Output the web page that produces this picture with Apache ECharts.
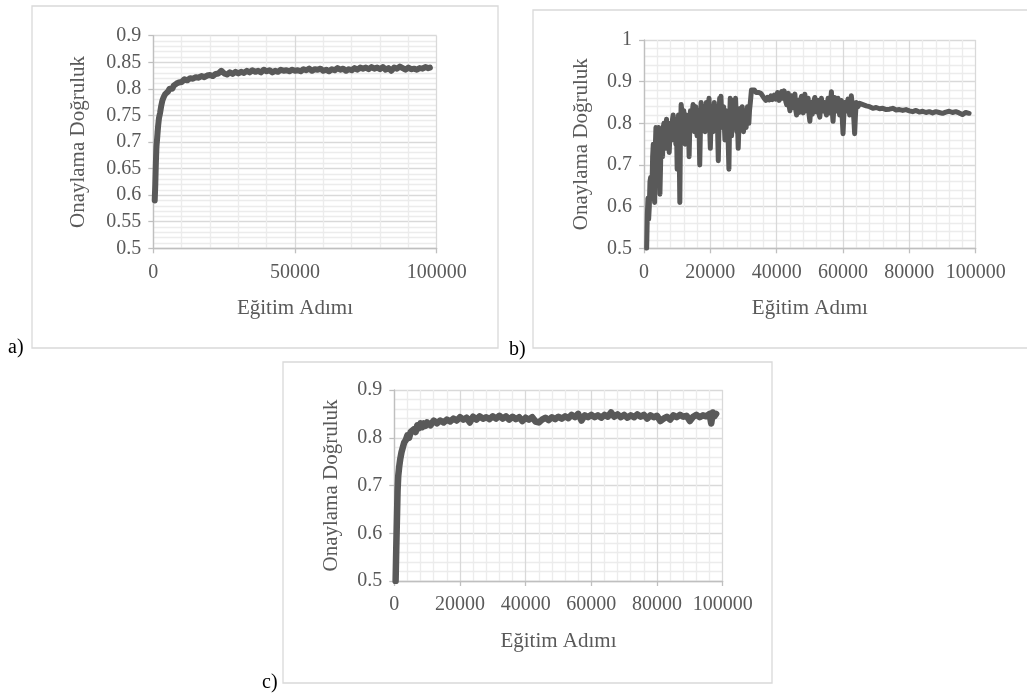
<!DOCTYPE html>
<html>
<head>
<meta charset="utf-8">
<script src="https://cdn.jsdelivr.net/npm/echarts@6/dist/echarts.min.js"></script>
<style>
html,body{margin:0;padding:0;background:#fff;}
#chart{width:1027px;height:696px;}
</style>
</head>
<body>
<div id="chart"></div>
<script>
// ---- Data ----
const xTitle = 'Eğitim Adımı';
const yTitle = 'Onaylama Doğruluk';
const panelLabels = ['a)', 'b)', 'c)'];

// Panel a
const stepsA = [500,700,900,1100,1400,1700,2000,2400,2800,3200,3700,4200,4700,5200,5700,6200,6700,7200,7700,8200,9000,10000,11000,12000,13000,14000,15000,16000,17000,18000,19000,20000,21000,22000,23000,24000,25000,26000,27000,28000,29000,30000,31000,32000,33000,34000,35000,36000,37000,38000,39000,40000,41000,42000,43000,44000,45000,46000,47000,48000,49000,50000,51000,52000,53000,54000,55000,56000,57000,58000,59000,60000,61000,62000,63000,64000,65000,66000,67000,68000,69000,70000,71000,72000,73000,74000,75000,76000,77000,78000,79000,80000,81000,82000,83000,84000,85000,86000,87000,88000,89000,90000,91000,92000,93000,94000,95000,96000,97000,97600];
const accA = [0.59,0.62,0.66,0.69,0.71,0.73,0.745,0.755,0.768,0.778,0.785,0.79,0.788,0.795,0.80,0.803,0.80,0.806,0.805,0.81,0.812,0.813,0.818,0.816,0.82,0.819,0.822,0.821,0.824,0.822,0.825,0.826,0.824,0.828,0.829,0.834,0.829,0.827,0.831,0.828,0.832,0.829,0.832,0.83,0.834,0.831,0.835,0.832,0.834,0.831,0.836,0.833,0.835,0.831,0.834,0.832,0.836,0.834,0.835,0.833,0.836,0.834,0.835,0.833,0.837,0.835,0.838,0.834,0.837,0.836,0.838,0.834,0.836,0.833,0.837,0.835,0.839,0.836,0.838,0.834,0.837,0.835,0.839,0.836,0.84,0.838,0.84,0.837,0.841,0.838,0.84,0.837,0.841,0.836,0.839,0.834,0.84,0.838,0.842,0.839,0.836,0.84,0.837,0.838,0.836,0.839,0.838,0.841,0.839,0.84];

// Panel b
const stepsB = [800,1000,1200,1400,1600,1800,2000,2200,2400,2600,2800,3000,3200,3400,3600,3800,4000,4200,4400,4600,4800,5000,5200,5400,5600,5800,6000,6200,6400,6600,6800,7000,7200,7400,7600,7800,8000,8200,8400,8600,8800,9000,9200,9400,9600,9800,10000,10200,10400,10600,10800,11000,11200,11400,11600,11800,12000,12200,12400,12600,12800,13000,13200,13400,13600,13800,14000,14200,14400,14600,14800,15000,15200,15400,15600,15800,16000,16200,16400,16600,16800,17000,17200,17400,17600,17800,18000,18200,18400,18600,18800,19000,19200,19400,19600,19800,20000,20200,20400,20600,20800,21000,21200,21400,21600,21800,22000,22200,22400,22600,22800,23000,23200,23400,23600,23800,24000,24200,24400,24600,24800,25000,25200,25400,25600,25800,26000,26200,26400,26600,26800,27000,27200,27400,27600,27800,28000,28200,28400,28600,28800,29000,29200,29400,29600,29800,30000,30200,30400,30600,30800,31000,31200,31400,31600,31800,32000,32400,32800,
33000,33250,33500,33750,34000,34250,34500,34750,35000,35250,35500,35750,36000,36250,36500,36750,37000,37250,37500,37750,38000,38250,38500,38750,39000,39250,39500,39750,40000,40250,40500,40750,41000,41250,41500,41750,42000,42250,42500,42750,43000,43250,43500,43750,44000,44250,44500,44750,45000,45250,45500,45750,46000,46250,46500,46750,47000,47250,47500,47750,48000,48250,48500,48750,49000,49250,49500,49750,50000,50250,50500,50750,51000,51250,51500,51750,52000,52250,52500,52750,53000,53250,53500,53750,54000,54250,54500,54750,55000,55250,55500,55750,56000,56250,56500,56750,57000,57250,57500,57750,58000,58250,58500,58750,59000,59250,59500,59750,60000,60250,60500,60750,61000,61250,61500,61750,62000,62250,62500,62750,63000,63250,63500,63750,64000,64250,64500,
65000,66000,67000,68000,69000,70000,71000,72000,73000,74000,75000,76000,77000,78000,79000,80000,81000,82000,83000,84000,85000,86000,87000,88000,89000,90000,91000,92000,93000,94000,95000,96000,97000,98000];
const accB = [0.50,0.58,0.62,0.57,0.60,0.66,0.67,0.62,0.64,0.72,0.75,0.66,0.61,0.74,0.79,0.75,0.72,0.78,0.79,0.71,0.63,0.70,0.78,0.76,0.72,0.79,0.80,0.77,0.74,0.79,0.81,0.78,0.76,0.80,0.73,0.77,0.80,0.78,0.76,0.81,0.82,0.77,0.78,0.81,0.75,0.79,0.69,0.80,0.82,0.75,0.61,0.78,0.845,0.83,0.78,0.82,0.83,0.79,0.75,0.80,0.82,0.78,0.77,0.81,0.72,0.79,0.83,0.80,0.79,0.83,0.845,0.81,0.78,0.82,0.84,0.80,0.77,0.81,0.83,0.79,0.70,0.78,0.85,0.82,0.79,0.83,0.84,0.80,0.78,0.82,0.85,0.81,0.80,0.84,0.86,0.79,0.74,0.80,0.84,0.81,0.78,0.83,0.85,0.82,0.80,0.83,0.84,0.78,0.71,0.79,0.86,0.83,0.865,0.82,0.79,0.82,0.84,0.80,0.76,0.80,0.83,0.81,0.80,0.75,0.69,0.80,0.86,0.82,0.77,0.81,0.855,0.83,0.80,0.84,0.86,0.82,0.78,0.80,0.74,0.79,0.835,0.82,0.80,0.83,0.84,0.80,0.78,0.80,0.83,0.81,0.79,0.82,0.84,0.82,0.80,0.83,0.845,0.88,0.882,
0.882,0.880,0.878,0.874,0.876,0.872,0.874,0.870,0.877,0.872,0.870,0.866,0.868,0.860,0.862,0.855,0.852,0.862,0.866,0.856,0.858,0.866,0.870,0.857,0.860,0.868,0.872,0.858,0.862,0.874,0.870,0.855,0.858,0.870,0.876,0.860,0.862,0.878,0.878,0.852,0.845,0.866,0.872,0.842,0.830,0.855,0.866,0.838,0.840,0.862,0.870,0.832,0.820,0.845,0.855,0.826,0.835,0.858,0.865,0.832,0.825,0.852,0.870,0.838,0.830,0.848,0.860,0.822,0.805,0.835,0.850,0.822,0.825,0.855,0.862,0.828,0.830,0.848,0.855,0.822,0.815,0.842,0.860,0.835,0.830,0.845,0.850,0.828,0.820,0.845,0.860,0.832,0.825,0.850,0.876,0.830,0.805,0.840,0.862,0.835,0.830,0.848,0.860,0.832,0.820,0.842,0.855,0.815,0.775,0.820,0.850,0.835,0.830,0.848,0.858,0.835,0.820,0.845,0.866,0.845,0.830,0.812,0.775,0.820,0.850,0.845,0.840,
0.848,0.845,0.842,0.84,0.836,0.838,0.835,0.836,0.833,0.834,0.836,0.832,0.833,0.831,0.833,0.83,0.828,0.831,0.827,0.829,0.826,0.828,0.825,0.828,0.826,0.824,0.827,0.829,0.826,0.828,0.825,0.821,0.826,0.824];

// Panel c
const stepsC = [400,600,800,1000,1200,1500,1800,2200,2600,3000,3500,4000,4500,5000,5500,6000,6500,7000,7500,8000,8500,9000,9500,10000,11000,12000,13000,14000,15000,16000,17000,18000,19000,20000,21000,22000,23000,24000,25000,26000,27000,28000,29000,30000,31000,32000,33000,34000,35000,36000,37000,38000,39000,40000,41000,42000,43000,44000,45000,46000,47000,48000,49000,50000,51000,52000,53000,54000,55000,56000,57000,58000,59000,60000,61000,62000,63000,64000,65000,66000,67000,68000,69000,70000,71000,72000,73000,74000,75000,76000,77000,78000,79000,80000,81000,82000,83000,84000,85000,86000,87000,88000,89000,90000,91000,92000,93000,94000,95000,96000,96500,97000,97500,98000];
const accC = [0.50,0.57,0.63,0.69,0.72,0.74,0.755,0.77,0.78,0.79,0.795,0.805,0.80,0.812,0.808,0.818,0.812,0.826,0.82,0.83,0.822,0.83,0.825,0.832,0.826,0.836,0.83,0.836,0.832,0.838,0.834,0.84,0.836,0.843,0.838,0.842,0.832,0.844,0.838,0.845,0.84,0.843,0.839,0.845,0.84,0.846,0.84,0.845,0.838,0.844,0.839,0.843,0.835,0.842,0.838,0.843,0.834,0.832,0.838,0.842,0.837,0.843,0.839,0.844,0.84,0.845,0.841,0.848,0.843,0.85,0.836,0.847,0.843,0.848,0.843,0.847,0.842,0.848,0.844,0.853,0.844,0.849,0.843,0.848,0.842,0.847,0.843,0.849,0.844,0.848,0.84,0.847,0.843,0.846,0.835,0.84,0.844,0.838,0.847,0.843,0.848,0.844,0.846,0.835,0.844,0.848,0.843,0.847,0.845,0.85,0.83,0.853,0.845,0.85];

// Axis ticks
const xTicksA = {min: 0, max: 100000, interval: 50000, minorSplit: 5};
const yTicksA = {min: 0.5, max: 0.9, interval: 0.05, minorSplit: 5};
const xTicksBC = {min: 0, max: 100000, interval: 20000, minorSplit: 5};
const yTicksB = {min: 0.5, max: 1.0, interval: 0.1, minorSplit: 5};
const yTicksC = {min: 0.5, max: 0.9, interval: 0.1, minorSplit: 5};

// ---- Styling ----
const FONT = 'Liberation Serif';
const TXT = '#595959';
const MAJOR = '#d9d9d9';
const MINOR = '#ececec';
const LINE = '#595959';

const grids = [
  {left: 153.3, top: 35.7, width: 283.4, height: 212.6},
  {left: 644, top: 40, width: 331.7, height: 208.3},
  {left: 394.3, top: 390, width: 328.4, height: 191}
];

function xAxis(idx, t) {
  return {
    type: 'value', gridIndex: idx, min: t.min, max: t.max, interval: t.interval,
    name: xTitle, nameLocation: 'middle', nameGap: 50,
    nameTextStyle: {fontFamily: FONT, fontSize: 21, color: TXT},
    axisLine: {show: true, lineStyle: {color: '#bfbfbf', width: 1.3}},
    axisTick: {show: true, length: 5, lineStyle: {color: '#bfbfbf', width: 1.3}},
    axisLabel: {fontFamily: FONT, fontSize: 20, color: TXT, margin: 14,
      formatter: v => String(v)},
    splitLine: {show: true, lineStyle: {color: MAJOR, width: 1.3}},
    minorTick: {show: false, splitNumber: t.minorSplit},
    minorSplitLine: {show: true, lineStyle: {color: MINOR, width: 1.3}}
  };
}
function yAxis(idx, t, gap) {
  return {
    type: 'value', gridIndex: idx, min: t.min, max: t.max, interval: t.interval,
    name: yTitle, nameLocation: 'middle', nameGap: gap, nameRotate: 90,
    nameTextStyle: {fontFamily: FONT, fontSize: 21, color: TXT},
    axisLine: {show: true, lineStyle: {color: '#bfbfbf', width: 1.3}},
    axisTick: {show: true, length: 5, lineStyle: {color: '#bfbfbf', width: 1.3}},
    axisLabel: {fontFamily: FONT, fontSize: 20, color: TXT, margin: 12,
      formatter: v => String(Math.round(v * 100) / 100)},
    splitLine: {show: true, lineStyle: {color: MAJOR, width: 1.3}},
    minorTick: {show: false, splitNumber: t.minorSplit},
    minorSplitLine: {show: true, lineStyle: {color: MINOR, width: 1.3}}
  };
}
function pairs(xs, ys) { return xs.map((x, i) => [x, ys[i]]); }
function series(idx, xs, ys, w) {
  return {
    type: 'line', xAxisIndex: idx, yAxisIndex: idx, data: pairs(xs, ys),
    showSymbol: false, symbol: 'none', silent: true, animation: false,
    lineStyle: {color: LINE, width: w, join: 'round', cap: 'round'}
  };
}

const boxes = [
  {x: 32, y: 6, w: 466, h: 342},
  {x: 533, y: 10, w: 500, h: 338},
  {x: 283, y: 362, w: 489, h: 321}
];
const labelPos = [[8, 348], [509, 350], [262, 683]];

const graphic = [];
boxes.forEach(b => graphic.push({
  type: 'rect', silent: true, z: -10,
  shape: {x: b.x, y: b.y, width: b.w, height: b.h},
  style: {fill: '#fff', stroke: '#d9d9d9', lineWidth: 1.3}
}));
panelLabels.forEach((t, i) => graphic.push({
  type: 'text', silent: true, x: labelPos[i][0], y: labelPos[i][1],
  style: {text: t, font: '20px "Liberation Serif"', fill: '#000', textVerticalAlign: 'middle'}
}));

const chart = echarts.init(document.getElementById('chart'), null, {renderer: 'canvas'});
chart.setOption({
  animation: false,
  backgroundColor: '#fff',
  grid: grids,
  xAxis: [xAxis(0, xTicksA), xAxis(1, xTicksBC), xAxis(2, xTicksBC)],
  yAxis: [yAxis(0, yTicksA, 64), yAxis(1, yTicksB, 52), yAxis(2, yTicksC, 52)],
  series: [series(0, stepsA, accA, 6), series(1, stepsB, accB, 5), series(2, stepsC, accC, 6.5)],
  graphic: graphic
});
</script>
</body>
</html>
